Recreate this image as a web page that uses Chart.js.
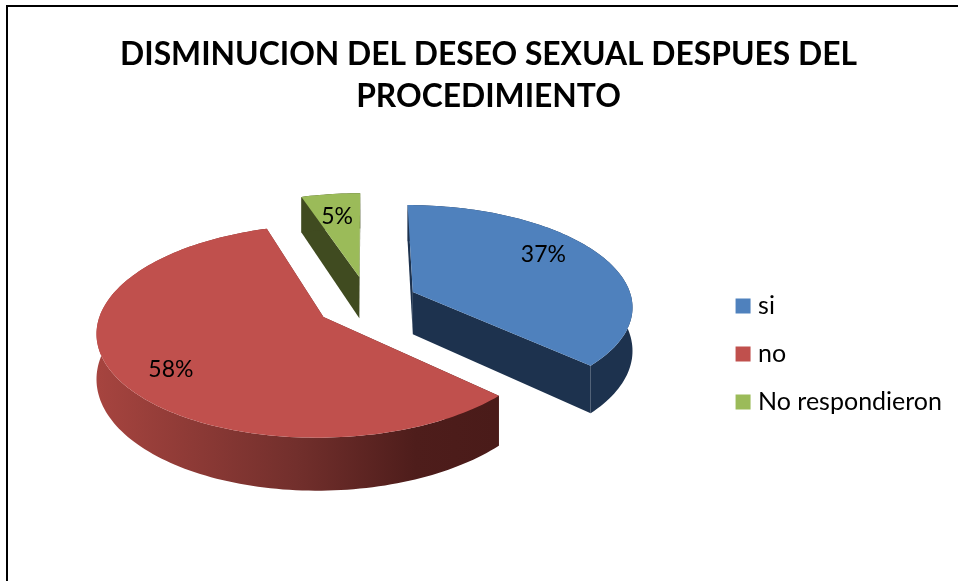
<!DOCTYPE html>
<html><head><meta charset="utf-8">
<style>html,body{margin:0;padding:0;background:#fff}#w{width:958px;height:581px;position:relative}</style>
<script src="https://cdn.jsdelivr.net/npm/chart.js@4"></script>
</head><body><div id="w"><canvas id="c" width="958" height="581"></canvas></div>
<script>
const titleLines = ['DISMINUCION DEL DESEO SEXUAL DESPUES DEL', 'PROCEDIMIENTO'];
const categories = ['si', 'no', 'No respondieron'];
const percentages = [37, 58, 5];
const topColors = ['#4f81bd', '#c0504d', '#9bbb59'];
const sideColors = ['#1d324e', null, '#404b20'];

const view = {cx: 367, cy: 302.5, sx: 220, sy: 100.8, persp: 0.13, explode: 0.23, explodeZ: 0.265, depth: 43,
  labelRadii: [0.62, 0.80, 0.82], labelNudge: [[12, -15], [10, 7], [2, 6]]};
const drawOrder = [2, 0, 1];

function project(X, Z, drop) {
  const w = 1 - view.persp * Z;
  return [view.cx + view.sx * X / w, view.cy + view.sy * Z / w + (drop || 0) / Math.pow(w, 1.3)];
}
function slicePoints(a0, a1, mid) {
  const ox = Math.sin(mid) * view.explode, oz = -Math.cos(mid) * view.explodeZ;
  const pts = [], n = Math.max(2, Math.ceil((a1 - a0) * 40));
  for (let i = 0; i <= n; i++) {
    const t = a0 + (a1 - a0) * i / n;
    pts.push([ox + Math.sin(t), oz - Math.cos(t)]);
  }
  return {ox, oz, pts};
}
function poly(ctx, list, fill) {
  ctx.beginPath();
  list.forEach((p, i) => i ? ctx.lineTo(p[0], p[1]) : ctx.moveTo(p[0], p[1]));
  ctx.closePath();
  ctx.fillStyle = fill;
  ctx.fill();
}
const pie3d = {
  id: 'pie3d',
  beforeDatasetsDraw(chart) {
    const ctx = chart.ctx, arcs = chart.getDatasetMeta(0).data;
    const redSide = ctx.createLinearGradient(98, 0, 495, 0);
    redSide.addColorStop(0, '#a6443f');
    redSide.addColorStop(0.5, '#722f2c');
    redSide.addColorStop(0.8, '#4e1d1b');
    redSide.addColorStop(1, '#4a1b19');
    drawOrder.forEach(i => {
      const a = arcs[i];
      const a0 = a.startAngle + Math.PI / 2, a1 = a.endAngle + Math.PI / 2, mid = (a0 + a1) / 2;
      const {ox, oz, pts} = slicePoints(a0, a1, mid);
      const side = sideColors[i] || redSide;
      const up = pts.map(p => project(p[0], p[1], 0));
      const low = pts.map(p => project(p[0], p[1], view.depth));
      const apexU = project(ox, oz, 0), apexL = project(ox, oz, view.depth);
      poly(ctx, [apexU, up[0], low[0], apexL], side);
      poly(ctx, [apexU, up[up.length - 1], low[low.length - 1], apexL], side);
      poly(ctx, up.concat(low.slice().reverse()), side);
      poly(ctx, [apexU].concat(up), topColors[i]);
    });
    ctx.fillStyle = '#000';
    ctx.font = '23px Lato';
    ctx.textAlign = 'center';
    ctx.textBaseline = 'middle';
    arcs.forEach((a, i) => {
      const a0 = a.startAngle + Math.PI / 2, a1 = a.endAngle + Math.PI / 2, mid = (a0 + a1) / 2;
      const r = view.explode + view.labelRadii[i];
      const p = project(Math.sin(mid) * r, -Math.cos(mid) * r, 0);
      ctx.fillText(percentages[i] + '%', p[0] + view.labelNudge[i][0], p[1] + view.labelNudge[i][1]);
    });
    return false;
  }
};
const frame = {
  id: 'frame',
  beforeDraw(chart) {
    const ctx = chart.ctx;
    ctx.save();
    ctx.strokeStyle = '#000';
    ctx.lineWidth = 2;
    ctx.beginPath();
    ctx.moveTo(7, 581);
    ctx.lineTo(7, 6);
    ctx.lineTo(958, 6);
    ctx.stroke();
    ctx.restore();
  }
};
new Chart(document.getElementById('c'), {
  type: 'pie',
  data: {labels: categories, datasets: [{data: percentages, backgroundColor: topColors, borderWidth: 0}]},
  plugins: [frame, pie3d],
  options: {
    responsive: false,
    animation: false,
    layout: {padding: {left: 25, right: 6, bottom: 143.5}},
    plugins: {
      tooltip: {enabled: false},
      title: {display: true, text: titleLines, color: '#000',
        font: {family: 'Lato', size: 31.8, weight: 'bold', lineHeight: 1.34},
        padding: {top: 33, bottom: 10}},
      legend: {position: 'right', align: 'end',
        labels: {usePointStyle: true, pointStyle: 'rect', boxWidth: 5, boxHeight: 15, padding: 23,
          color: '#000', font: {family: 'Lato', size: 25}}}
    }
  }
});
</script></body></html>
